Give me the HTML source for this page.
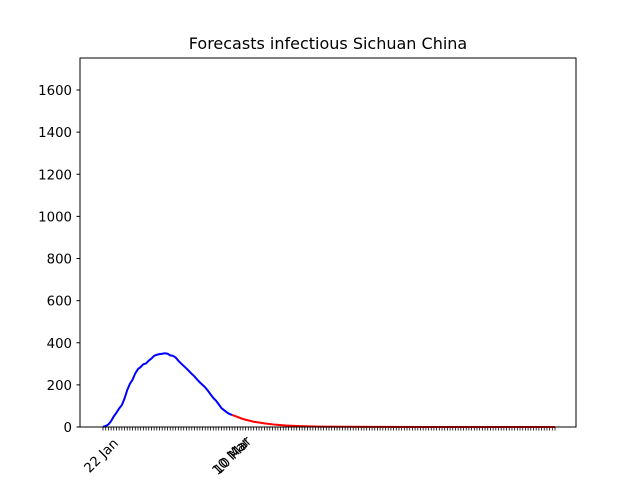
<!DOCTYPE html>
<html><head><meta charset="utf-8"><style>body{margin:0;background:#fff}svg{font-family:"DejaVu Sans","Liberation Sans",sans-serif}</style></head>
<body>
<svg id="c" width="640" height="480">
<rect width="640" height="480" fill="#fff"/>
<text x="328" y="49" text-anchor="middle" font-size="16">Forecasts infectious Sichuan China</text>
<g id="ticks"></g>
<path id="actual" fill="none" stroke="#0000ff" stroke-width="2"/>
<path id="forecast" fill="none" stroke="#ff0000" stroke-width="2"/>
<rect x="80" y="58" width="496" height="369" fill="none" stroke="#000" stroke-width="1"/>
</svg>
<script>
const yTicks=[0,200,400,600,800,1000,1200,1400,1600];
const xLabels=[[0,"22 Jan"],[48,"10 Mar"],[48,"10 Mar"]];
const actualValues=[1,5,12,28,50,68,88,104,135,175,205,225,255,275,285,298,302,315,325,338,343,346,348,350,348,340,338,330,315,302,290,278,265,252,240,225,212,200,188,172,155,138,125,108,90,80,70,62,57];
const forecastDays=[48,52,56,60,64,68,72,80,90,100,120,168];
const forecastValues=[57,38,25,17,11,7,5,2,1,0.4,0.1,0];
const totalDays=168;
const X=d=>103+d*(555-103)/totalDays;
const Y=v=>427-v*(427-58)/1752;
const ns="http://www.w3.org/2000/svg";
const g=document.getElementById('ticks');
function mk(t,a){const e=document.createElementNS(ns,t);for(const k in a)e.setAttribute(k,a[k]);return e;}
yTicks.forEach(v=>{
  const l=mk('line',{x1:76.5,x2:80,y1:Y(v),y2:Y(v),stroke:'#000'});
  
  
  g.appendChild(l);
  const t=mk('text',{x:72,y:Y(v)+5,'text-anchor':'end','font-size':13.3});
  
  
  t.textContent=v;g.appendChild(t);
});
for(let d=0;d<=totalDays;d++){
  const l=mk('line',{x1:X(d),x2:X(d),y1:427,y2:430.5,stroke:'#000','stroke-width':0.8});
  
  
  g.appendChild(l);
}
xLabels.forEach(([d,s],i)=>{
  const x=X(d)+16+i*2,y=444-i*1;
  const t=mk('text',{x:x,y:y,'text-anchor':'end','font-size':13.3,transform:`rotate(-45 ${x} ${y})`});
  
  
  t.textContent=s;g.appendChild(t);
});
document.getElementById('actual').setAttribute('d',actualValues.map((v,i)=>(i?'L':'M')+X(i)+','+Y(v)).join(''));
document.getElementById('forecast').setAttribute('d',forecastValues.map((v,i)=>(i?'L':'M')+X(forecastDays[i])+','+Y(v)).join(''));
</script>
</body></html>
